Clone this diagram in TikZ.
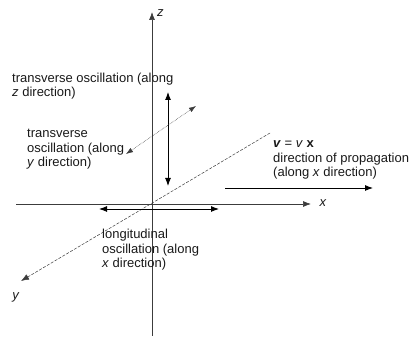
\documentclass[tikz,border=0pt]{standalone}
\usepackage{fontspec}
\setmainfont{Liberation Sans}
\usepackage{tikz}
\usetikzlibrary{arrows.meta, positioning, calc}
\definecolor{axisgray}{RGB}{60, 60, 60}

\tikzset{
  axisline/.style={draw=axisgray, line width=0.7pt},
  osc/.style={draw=black, line width=0.9pt},
  tip/.style={-{Latex[length=8pt, width=6pt]}},
  label/.style={font=\fontsize{13}{14.5}\selectfont, align=left, inner sep=0pt, text=black!90},
}

\begin{document}
\begin{tikzpicture}[x=1pt, y=-1pt]
        \useasboundingbox (0,0) rectangle (413,339);

        % axes
        \coordinate (zbot) at (152,336);
        \coordinate (ztop) at (152,12);
        \coordinate (xleft) at (16,204);
        \coordinate (xright) at (311,204);
        \coordinate (yback) at (270,133);
        \coordinate (yfront) at (21,281);
        \draw[axisline, tip] (zbot) -- (ztop);
        \draw[axisline, tip] (xleft) -- (xright);
        \draw[axisgray, line width=0.5pt, dash pattern=on 3pt off 1.5pt,
          -{Latex[length=8pt, width=6pt]}] (yback) -- (yfront);
        \node[label, anchor=west] (zlabel) at (157,13) {\textit{z}};
        \node[label] (xlabel) at (323,203) {\textit{x}};
        \node[label] (ylabel) at (16,297) {\textit{y}};

        % transverse oscillation along z
        \coordinate (zoscA) at (168,186);
        \coordinate (zoscB) at (168,92);
        \draw[osc, {Latex[length=8pt, width=6pt]}-{Latex[length=8pt, width=6pt]}]
          (zoscA) -- (zoscB);
        \node[label, anchor=base west] (ztext) at (12,97)
          {transverse oscillation (along\\\textit{z} direction)};

        % transverse oscillation along y
        \coordinate (yoscA) at (126,154);
        \coordinate (yoscB) at (196,106);
        \draw[axisgray, line width=0.55pt, densely dotted,
          {Latex[length=7pt, width=5pt]}-{Latex[length=7pt, width=5pt]}]
          (yoscA) -- (yoscB);
        \node[label, anchor=base west] (ytext) at (27,167)
          {transverse\\oscillation (along\\\textit{y} direction)};

        % longitudinal oscillation along x
        \coordinate (xoscA) at (99,209);
        \coordinate (xoscB) at (219,209);
        \draw[osc, {Latex[length=8pt, width=6pt]}-{Latex[length=8pt, width=6pt]}]
          (xoscA) -- (xoscB);
        \node[label, anchor=base west] (xtext) at (102,268)
          {longitudinal\\oscillation (along\\\textit{x} direction)};

        % propagation
        \coordinate (propA) at (225,188);
        \coordinate (propB) at (373,188);
        \draw[osc, tip] (propA) -- (propB);
        \node[label, anchor=base west] (proptext) at (273,177)
          {\textbf{\textit{v}} = \textit{v} \textbf{x}\\direction of propagation\\(along \textit{x} direction)};
      \end{tikzpicture}
\end{document}
